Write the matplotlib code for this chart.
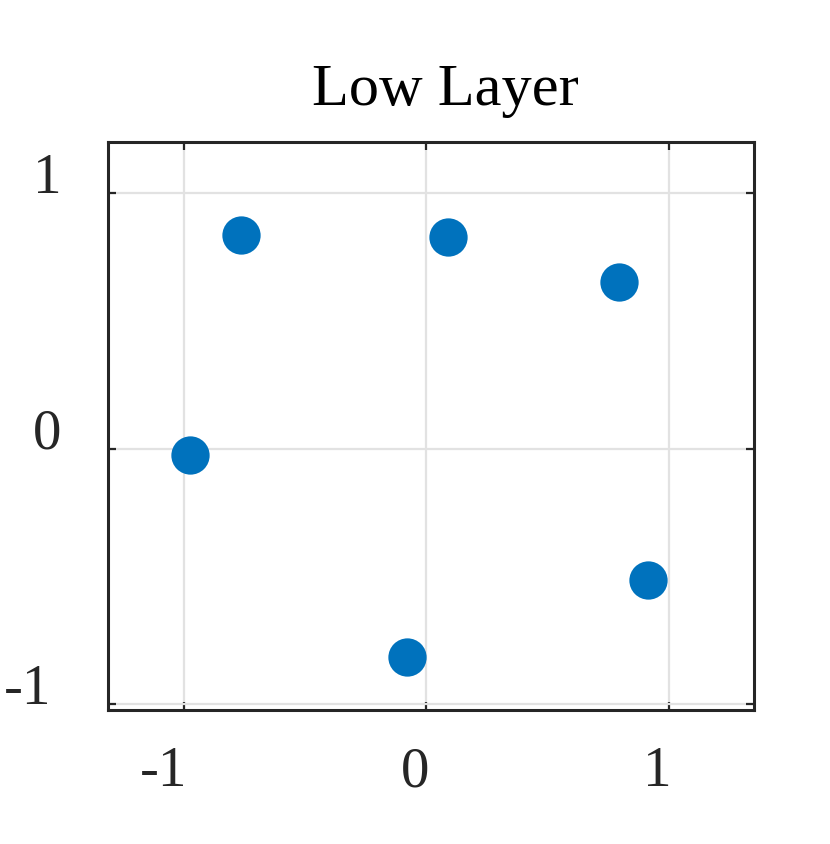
import matplotlib
matplotlib.use("Agg")
import matplotlib.pyplot as plt
from matplotlib.transforms import ScaledTranslation

x_vals = [-0.764, 0.087, 0.793, -0.974, -0.082, 0.913]
y_vals = [0.837, 0.830, 0.651, -0.025, -0.816, -0.514]
ticks = [-1, 0, 1]
tick_labels = ["-1", "0", "1"]
title = "Low Layer"

plt.rcParams['font.family'] = ['Liberation Serif', 'DejaVu Serif']

fig = plt.figure(figsize=(8.30, 8.44), dpi=100)
ax = fig.add_axes([108.3/830, 1 - 710/844, (754.3-108.3)/830, (710-142.3)/844])
ax.scatter(x_vals, y_vals, s=760, color='#0072BD', zorder=3, linewidths=0)
ax.set_xlim(-1.312, 1.352)
ax.set_ylim(-1.0235, 1.2)
ax.set_xticks(ticks)
ax.set_xticklabels(tick_labels, ha='right')
ax.set_yticks(ticks)
ax.set_yticklabels(tick_labels, ha='center', va='baseline')
ax.grid(True, color='#e2e2e2', linewidth=1.6, zorder=0)
ax.set_axisbelow(True)
for s in ax.spines.values():
    s.set_color('#262626')
    s.set_linewidth(2.2)
ax.tick_params(direction='in', length=5.5, width=1.6, color='#262626',
               top=True, right=True, labelsize=41, labelcolor='#262626')
ax.tick_params(axis='x', pad=26)
ax.tick_params(axis='y', pad=43.8)
for lab in ax.get_xticklabels():
    lab.set_transform(lab.get_transform() + ScaledTranslation(0.03, 0, fig.dpi_scale_trans))
# the "-1" y label sits further left in the reference
for lab in ax.get_yticklabels():
    if lab.get_text() == "-1":
        lab.set_transform(lab.get_transform() + ScaledTranslation(-0.20, 0, fig.dpi_scale_trans))
ax.set_title(title, fontsize=43.5, pad=27, color='#000000', x=0.5 + 14/646)
fig.savefig("out.png", dpi=100)
